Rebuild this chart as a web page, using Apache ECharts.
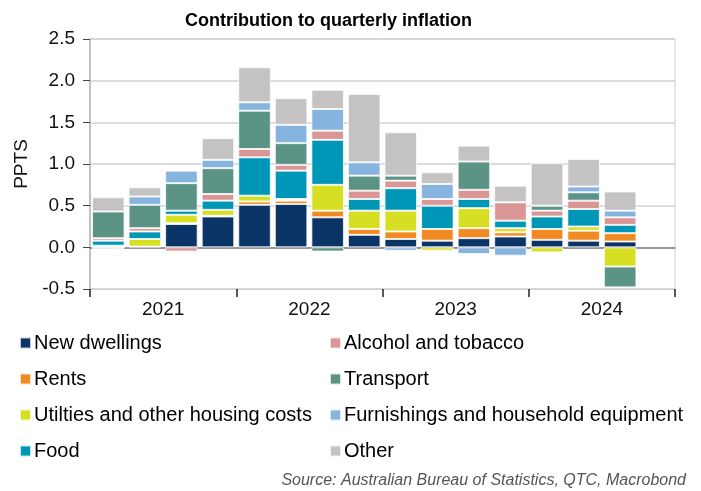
<!DOCTYPE html>
<html>
<head>
<meta charset="utf-8">
<script src="https://cdn.jsdelivr.net/npm/echarts@6/dist/echarts.min.js"></script>
<style>
html,body{margin:0;padding:0;background:#fff;}
#chart{width:701px;height:491px;}
</style>
</head>
<body>
<div id="chart"></div>
<script>
var quarters = ['2021 Q1','2021 Q2','2021 Q3','2021 Q4','2022 Q1','2022 Q2','2022 Q3','2022 Q4','2023 Q1','2023 Q2','2023 Q3','2023 Q4','2024 Q1','2024 Q2','2024 Q3','2024 Q4'];
var years = ['2021','2022','2023','2024'];
var yTicks = [-0.5, 0.0, 0.5, 1.0, 1.5, 2.0, 2.5];

var newDwellings = [0.00, 0.01, 0.28, 0.37, 0.51, 0.52, 0.36, 0.15, 0.10, 0.08, 0.11, 0.13, 0.09, 0.08, 0.07, null];
var rents        = [0.00, 0.00, 0.01, 0.01, 0.04, 0.04, 0.08, 0.07, 0.09, 0.14, 0.12, 0.05, 0.13, 0.12, 0.10, null];
var utilities    = [0.02, 0.09, 0.10, 0.07, 0.07, 0.02, 0.31, 0.22, 0.25, -0.04, 0.24, 0.05, -0.06, 0.05, -0.23, null];
var food         = [0.06, 0.09, 0.05, 0.11, 0.46, 0.34, 0.54, 0.14, 0.27, 0.28, 0.11, 0.09, 0.15, 0.21, 0.10, null];
var alcohol      = [0.03, 0.04, -0.05, 0.08, 0.10, 0.07, 0.11, 0.10, 0.09, 0.08, 0.11, 0.22, 0.07, 0.10, 0.09, null];
var transport    = [0.32, 0.28, 0.33, 0.31, 0.46, 0.26, -0.05, 0.18, 0.06, 0.00, 0.34, 0.00, 0.06, 0.10, -0.25, null];
var furnishings  = [-0.02, 0.10, 0.15, 0.10, 0.10, 0.22, 0.26, 0.16, -0.04, 0.18, -0.08, -0.10, 0.00, 0.07, 0.08, null];
var other        = [0.17, 0.11, -0.02, 0.26, 0.42, 0.32, 0.23, 0.82, 0.52, 0.14, 0.19, 0.20, 0.51, 0.33, 0.23, null];

var seriesNames = ['New dwellings','Rents','Utilties and other housing costs','Food','Alcohol and tobacco','Transport','Furnishings and household equipment','Other'];
var seriesData = [newDwellings, rents, utilities, food, alcohol, transport, furnishings, other];
var colors = ['#0b3566','#f28a22','#d7df23','#0096b8','#d99694','#5b9384','#86b4de','#c4c2c3'];

var FONT = '"Liberation Sans", Arial, sans-serif';

var chart = echarts.init(document.getElementById('chart'), null, {renderer: 'canvas'});

var series = seriesNames.map(function (name, i) {
  return {
    name: name,
    type: 'bar',
    stack: 'total',
    xAxisIndex: 0,
    yAxisIndex: 0,
    barCategoryGap: '11%',
    data: seriesData[i],
    itemStyle: {color: colors[i], borderColor: 'rgba(255,255,255,0.75)', borderWidth: 1},
    emphasis: {disabled: true}
  };
});

var legendText = {fontFamily: FONT, fontSize: 20, color: '#000', lineHeight: 20, padding: [0, 0, 0, -2]};

var option = {
  animation: false,
  color: colors,
  title: {
    text: 'Contribution to quarterly inflation',
    left: 180,
    top: 7,
    textStyle: {fontFamily: FONT, fontSize: 18, fontWeight: 'bold', color: '#000'}
  },
  grid: {
    left: 90, right: 26, top: 39, bottom: 202,
    show: true, borderColor: '#cfcfcf', borderWidth: 1, backgroundColor: 'transparent'
  },
  legend: [
    {
      data: seriesNames.slice(0, 4),
      orient: 'vertical',
      left: 14, top: 328,
      itemWidth: 11, itemHeight: 11, itemGap: 16,
      icon: 'rect',
      textStyle: legendText,
      selectedMode: false
    },
    {
      data: seriesNames.slice(4),
      orient: 'vertical',
      left: 324, top: 328,
      itemWidth: 11, itemHeight: 11, itemGap: 16,
      icon: 'rect',
      textStyle: legendText,
      selectedMode: false
    }
  ],
  xAxis: [
    {
      type: 'category',
      data: quarters,
      position: 'bottom',
      axisLine: {show: true, onZero: true, lineStyle: {color: '#7f7f7f', width: 1.5}},
      axisTick: {show: false},
      axisLabel: {show: false},
      splitLine: {show: false}
    },
    {
      type: 'category',
      data: years,
      position: 'bottom',
      boundaryGap: true,
      axisLine: {show: true, onZero: false, lineStyle: {color: '#cfcfcf', width: 1}},
      axisTick: {show: true, length: 8, interval: 0, lineStyle: {color: '#222', width: 1.5}},
      axisLabel: {show: true, interval: 0, margin: 11, fontFamily: FONT, fontSize: 19, color: '#111'},
      splitLine: {show: false}
    }
  ],
  yAxis: {
    type: 'value',
    min: -0.5, max: 2.5, interval: 0.5,
    name: 'PPTS',
    nameLocation: 'middle',
    nameGap: 55,
    nameTextStyle: {fontFamily: FONT, fontSize: 19, color: '#111'},
    axisLine: {show: true, lineStyle: {color: '#b5b5b5', width: 1.5}},
    axisTick: {show: true, length: 7, lineStyle: {color: '#444', width: 1}},
    axisLabel: {
      margin: 15, fontFamily: FONT, fontSize: 19, color: '#111',
      formatter: function (v) { return v.toFixed(1); }
    },
    splitLine: {show: true, lineStyle: {color: '#d2d2d2', width: 1.5}}
  },
  graphic: [
    {
      type: 'text',
      right: 15,
      top: 473,
      style: {
        text: 'Source: Australian Bureau of Statistics, QTC, Macrobond',
        fontFamily: FONT, fontSize: 16, fontStyle: 'italic', fill: '#555'
      }
    }
  ],
  series: series
};
chart.setOption(option);
</script>
</body>
</html>
